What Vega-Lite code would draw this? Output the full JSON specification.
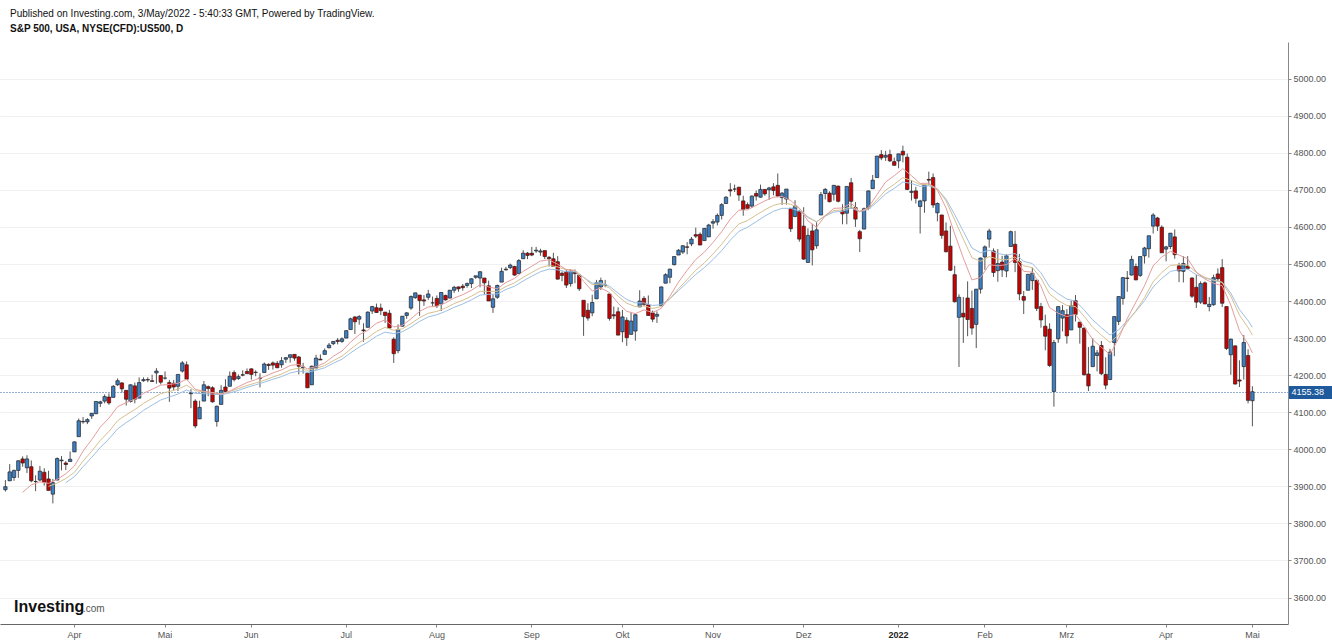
{
"$schema":"https://vega.github.io/schema/vega-lite/v6.json",
"width":1288,"height":582,
"autosize":{"type":"none"},
"padding":{"left":0,"top":42,"right":44,"bottom":18},
"background":"white",
"config":{"view":{"stroke":null},"font":"Liberation Sans"},
"title":{"text":"Published on Investing.com, 3/May/2022 - 5:40:33 GMT, Powered by TradingView.","subtitle":"S&P 500, USA, NYSE(CFD):US500, D","anchor":"start","frame":"group","orient":"top","dx":10,"offset":8,"font":"Liberation Sans","fontSize":10,"fontWeight":"normal","color":"#111","subtitleFont":"Liberation Sans","subtitleFontSize":10,"subtitleFontWeight":"bold","subtitleColor":"#111","subtitlePadding":5},
"data":{"values":[
{"d":"2021-03-10","o":3891,"h":3917,"l":3886,"c":3899},
{"d":"2021-03-11","o":3915,"h":3960,"l":3915,"c":3939},
{"d":"2021-03-12","o":3924,"h":3945,"l":3915,"c":3943},
{"d":"2021-03-15","o":3943,"h":3970,"l":3923,"c":3969},
{"d":"2021-03-16","o":3974,"h":3981,"l":3953,"c":3963,"r":3884},
{"d":"2021-03-17","o":3950,"h":3984,"l":3936,"c":3974},
{"d":"2021-03-18","o":3953,"h":3970,"l":3911,"c":3915,"r":3904},
{"d":"2021-03-19","o":3913,"h":3930,"l":3887,"c":3913},
{"d":"2021-03-22","o":3917,"h":3955,"l":3914,"c":3941,"r":3912},
{"d":"2021-03-23","o":3938,"h":3949,"l":3902,"c":3911},
{"d":"2021-03-24","o":3920,"h":3942,"l":3889,"c":3889,"r":3908,"t":3900},
{"d":"2021-03-25","o":3879,"h":3920,"l":3854,"c":3910},
{"d":"2021-03-26","o":3917,"h":3978,"l":3917,"c":3975,"r":3919,"t":3909},
{"d":"2021-03-29","o":3969,"h":3982,"l":3943,"c":3971},
{"d":"2021-03-30","o":3963,"h":3968,"l":3944,"c":3959,"r":3934,"t":3921,"b":3910},
{"d":"2021-03-31","o":3967,"h":3994,"l":3967,"c":3973},
{"d":"2021-04-01","o":3993,"h":4021,"l":3993,"c":4020,"r":3955,"t":3938,"b":3926},
{"d":"2021-04-05","o":4034,"h":4083,"l":4034,"c":4077},
{"d":"2021-04-06","o":4075,"h":4087,"l":4069,"c":4074,"r":3995,"t":3968,"b":3953},
{"d":"2021-04-07","o":4074,"h":4084,"l":4068,"c":4080},
{"d":"2021-04-08","o":4090,"h":4098,"l":4082,"c":4097,"r":4026,"t":3995,"b":3978},
{"d":"2021-04-09","o":4096,"h":4129,"l":4095,"c":4129},
{"d":"2021-04-12","o":4124,"h":4131,"l":4114,"c":4128,"r":4060,"t":4024,"b":4005},
{"d":"2021-04-13","o":4130,"h":4148,"l":4124,"c":4142},
{"d":"2021-04-14","o":4141,"h":4151,"l":4120,"c":4125,"r":4084,"t":4048,"b":4028},
{"d":"2021-04-15","o":4140,"h":4173,"l":4140,"c":4170},
{"d":"2021-04-16","o":4174,"h":4191,"l":4171,"c":4185,"r":4115,"t":4077,"b":4055},
{"d":"2021-04-19","o":4179,"h":4181,"l":4153,"c":4163},
{"d":"2021-04-20","o":4159,"h":4160,"l":4118,"c":4135,"r":4126,"t":4093,"b":4072},
{"d":"2021-04-21","o":4129,"h":4175,"l":4126,"c":4174},
{"d":"2021-04-22","o":4171,"h":4180,"l":4124,"c":4135,"r":4135,"t":4107,"b":4087},
{"d":"2021-04-23","o":4138,"h":4194,"l":4138,"c":4180},
{"d":"2021-04-26","o":4185,"h":4194,"l":4182,"c":4188,"r":4151,"t":4124,"b":4105},
{"d":"2021-04-27","o":4188,"h":4194,"l":4181,"c":4187},
{"d":"2021-04-28","o":4185,"h":4201,"l":4182,"c":4183,"r":4162,"t":4137,"b":4119},
{"d":"2021-04-29","o":4206,"h":4219,"l":4177,"c":4211},
{"d":"2021-04-30","o":4199,"h":4199,"l":4175,"c":4181,"r":4173,"t":4150,"b":4133},
{"d":"2021-05-03","o":4192,"h":4210,"l":4188,"c":4192},
{"d":"2021-05-04","o":4180,"h":4187,"l":4128,"c":4165,"r":4175,"t":4156,"b":4141},
{"d":"2021-05-05","o":4178,"h":4187,"l":4159,"c":4168},
{"d":"2021-05-06","o":4170,"h":4202,"l":4157,"c":4202,"r":4178,"t":4162,"b":4149},
{"d":"2021-05-07","o":4211,"h":4238,"l":4207,"c":4233},
{"d":"2021-05-10","o":4228,"h":4237,"l":4188,"c":4189,"r":4189,"t":4173,"b":4160},
{"d":"2021-05-11","o":4150,"h":4162,"l":4111,"c":4152},
{"d":"2021-05-12","o":4130,"h":4135,"l":4057,"c":4063,"r":4162,"t":4158,"b":4151},
{"d":"2021-05-13","o":4082,"h":4131,"l":4082,"c":4113},
{"d":"2021-05-14","o":4130,"h":4184,"l":4130,"c":4174,"r":4156,"t":4155,"b":4150},
{"d":"2021-05-17","o":4169,"h":4172,"l":4143,"c":4164},
{"d":"2021-05-18","o":4166,"h":4170,"l":4126,"c":4128,"r":4153,"t":4153,"b":4149},
{"d":"2021-05-19","o":4075,"h":4118,"l":4061,"c":4116},
{"d":"2021-05-20","o":4121,"h":4173,"l":4121,"c":4159,"r":4148,"t":4150,"b":4147},
{"d":"2021-05-21","o":4168,"h":4189,"l":4152,"c":4156},
{"d":"2021-05-24","o":4170,"h":4210,"l":4170,"c":4197,"r":4157,"t":4156,"b":4152},
{"d":"2021-05-25","o":4207,"h":4213,"l":4183,"c":4188},
{"d":"2021-05-26","o":4191,"h":4202,"l":4187,"c":4196,"r":4169,"t":4164,"b":4159},
{"d":"2021-05-27","o":4201,"h":4213,"l":4197,"c":4200},
{"d":"2021-05-28","o":4210,"h":4218,"l":4203,"c":4204,"r":4180,"t":4172,"b":4167},
{"d":"2021-06-01","o":4217,"h":4218,"l":4188,"c":4202},
{"d":"2021-06-02","o":4207,"h":4213,"l":4197,"c":4208,"r":4188,"t":4179,"b":4174},
{"d":"2021-06-03","o":4191,"h":4205,"l":4167,"c":4192},
{"d":"2021-06-04","o":4207,"h":4234,"l":4207,"c":4230,"r":4196,"t":4186,"b":4181},
{"d":"2021-06-07","o":4229,"h":4232,"l":4214,"c":4226},
{"d":"2021-06-08","o":4233,"h":4237,"l":4215,"c":4227,"r":4206,"t":4195,"b":4189},
{"d":"2021-06-09","o":4232,"h":4238,"l":4219,"c":4220},
{"d":"2021-06-10","o":4228,"h":4249,"l":4220,"c":4239,"r":4214,"t":4203,"b":4196},
{"d":"2021-06-11","o":4243,"h":4249,"l":4233,"c":4247},
{"d":"2021-06-14","o":4248,"h":4255,"l":4234,"c":4255,"r":4226,"t":4214,"b":4206},
{"d":"2021-06-15","o":4256,"h":4257,"l":4239,"c":4246},
{"d":"2021-06-16","o":4249,"h":4252,"l":4202,"c":4224,"r":4229,"t":4219,"b":4211},
{"d":"2021-06-17","o":4220,"h":4233,"l":4204,"c":4222},
{"d":"2021-06-18","o":4205,"h":4207,"l":4165,"c":4166,"r":4217,"t":4213,"b":4208},
{"d":"2021-06-21","o":4174,"h":4226,"l":4174,"c":4224},
{"d":"2021-06-22","o":4219,"h":4255,"l":4215,"c":4246,"r":4223,"t":4218,"b":4213},
{"d":"2021-06-23","o":4243,"h":4256,"l":4241,"c":4241},
{"d":"2021-06-24","o":4256,"h":4272,"l":4256,"c":4266,"r":4233,"t":4226,"b":4220},
{"d":"2021-06-25","o":4274,"h":4287,"l":4272,"c":4281},
{"d":"2021-06-28","o":4285,"h":4292,"l":4281,"c":4291,"r":4251,"t":4239,"b":4232},
{"d":"2021-06-29","o":4294,"h":4300,"l":4283,"c":4291},
{"d":"2021-06-30","o":4291,"h":4302,"l":4287,"c":4298,"r":4265,"t":4251,"b":4243},
{"d":"2021-07-01","o":4300,"h":4321,"l":4300,"c":4320},
{"d":"2021-07-02","o":4323,"h":4355,"l":4323,"c":4352,"r":4289,"t":4270,"b":4260},
{"d":"2021-07-06","o":4357,"h":4359,"l":4311,"c":4344},
{"d":"2021-07-07","o":4351,"h":4362,"l":4336,"c":4358,"r":4309,"t":4288,"b":4276},
{"d":"2021-07-08","o":4322,"h":4340,"l":4290,"c":4320},
{"d":"2021-07-09","o":4329,"h":4372,"l":4329,"c":4370,"r":4321,"t":4301,"b":4289},
{"d":"2021-07-12","o":4373,"h":4387,"l":4365,"c":4385},
{"d":"2021-07-13","o":4382,"h":4393,"l":4368,"c":4369,"r":4340,"t":4318,"b":4305},
{"d":"2021-07-14","o":4381,"h":4393,"l":4362,"c":4374},
{"d":"2021-07-15","o":4370,"h":4370,"l":4341,"c":4361,"r":4349,"t":4329,"b":4316},
{"d":"2021-07-16","o":4367,"h":4376,"l":4326,"c":4327},
{"d":"2021-07-19","o":4297,"h":4302,"l":4233,"c":4258,"r":4330,"t":4321,"b":4312},
{"d":"2021-07-20","o":4266,"h":4337,"l":4259,"c":4323},
{"d":"2021-07-21","o":4332,"h":4359,"l":4331,"c":4359,"r":4334,"t":4325,"b":4317},
{"d":"2021-07-22","o":4361,"h":4370,"l":4352,"c":4368},
{"d":"2021-07-23","o":4381,"h":4415,"l":4376,"c":4412,"r":4352,"t":4339,"b":4330},
{"d":"2021-07-26","o":4409,"h":4422,"l":4406,"c":4422},
{"d":"2021-07-27","o":4416,"h":4416,"l":4360,"c":4401,"r":4372,"t":4355,"b":4345},
{"d":"2021-07-28","o":4403,"h":4416,"l":4387,"c":4400},
{"d":"2021-07-29","o":4410,"h":4430,"l":4403,"c":4419,"r":4384,"t":4367,"b":4357},
{"d":"2021-07-30","o":4395,"h":4412,"l":4386,"c":4395},
{"d":"2021-08-02","o":4407,"h":4415,"l":4381,"c":4387,"r":4386,"t":4372,"b":4363},
{"d":"2021-08-03","o":4392,"h":4424,"l":4373,"c":4423},
{"d":"2021-08-04","o":4415,"h":4417,"l":4401,"c":4403,"r":4395,"t":4381,"b":4372},
{"d":"2021-08-05","o":4408,"h":4430,"l":4407,"c":4429},
{"d":"2021-08-06","o":4429,"h":4441,"l":4422,"c":4437,"r":4408,"t":4393,"b":4383},
{"d":"2021-08-09","o":4438,"h":4439,"l":4425,"c":4433},
{"d":"2021-08-10","o":4440,"h":4446,"l":4428,"c":4436,"r":4417,"t":4402,"b":4392},
{"d":"2021-08-11","o":4442,"h":4450,"l":4436,"c":4447},
{"d":"2021-08-12","o":4447,"h":4461,"l":4435,"c":4460,"r":4429,"t":4413,"b":4403},
{"d":"2021-08-13","o":4464,"h":4468,"l":4460,"c":4468},
{"d":"2021-08-16","o":4462,"h":4480,"l":4437,"c":4479,"r":4444,"t":4426,"b":4416},
{"d":"2021-08-17","o":4462,"h":4462,"l":4417,"c":4449},
{"d":"2021-08-18","o":4441,"h":4455,"l":4400,"c":4400,"r":4438,"t":4426,"b":4418},
{"d":"2021-08-19","o":4383,"h":4418,"l":4368,"c":4406},
{"d":"2021-08-20","o":4410,"h":4444,"l":4406,"c":4442,"r":4433,"t":4426,"b":4419},
{"d":"2021-08-23","o":4451,"h":4490,"l":4451,"c":4480},
{"d":"2021-08-24","o":4484,"h":4492,"l":4482,"c":4486,"r":4450,"t":4439,"b":4431},
{"d":"2021-08-25","o":4490,"h":4501,"l":4486,"c":4497},
{"d":"2021-08-26","o":4493,"h":4495,"l":4468,"c":4470,"r":4461,"t":4449,"b":4440},
{"d":"2021-08-27","o":4474,"h":4513,"l":4474,"c":4509},
{"d":"2021-08-30","o":4514,"h":4537,"l":4514,"c":4529,"r":4480,"t":4464,"b":4454},
{"d":"2021-08-31","o":4529,"h":4532,"l":4513,"c":4523},
{"d":"2021-09-01","o":4529,"h":4546,"l":4521,"c":4524,"r":4494,"t":4477,"b":4467},
{"d":"2021-09-02","o":4535,"h":4546,"l":4530,"c":4537},
{"d":"2021-09-03","o":4532,"h":4541,"l":4522,"c":4535,"r":4508,"t":4490,"b":4479},
{"d":"2021-09-07","o":4536,"h":4536,"l":4513,"c":4520},
{"d":"2021-09-08","o":4518,"h":4521,"l":4493,"c":4514,"r":4511,"t":4496,"b":4486},
{"d":"2021-09-09","o":4514,"h":4530,"l":4493,"c":4493},
{"d":"2021-09-10","o":4506,"h":4521,"l":4458,"c":4459,"r":4499,"t":4492,"b":4484},
{"d":"2021-09-13","o":4475,"h":4480,"l":4453,"c":4469},
{"d":"2021-09-14","o":4479,"h":4485,"l":4435,"c":4443,"r":4485,"t":4484,"b":4479},
{"d":"2021-09-15","o":4447,"h":4486,"l":4439,"c":4481},
{"d":"2021-09-16","o":4477,"h":4485,"l":4448,"c":4474,"r":4482,"t":4483,"b":4479},
{"d":"2021-09-17","o":4470,"h":4471,"l":4427,"c":4433},
{"d":"2021-09-20","o":4402,"h":4402,"l":4306,"c":4358,"r":4453,"t":4464,"b":4464},
{"d":"2021-09-21","o":4375,"h":4394,"l":4347,"c":4354},
{"d":"2021-09-22","o":4368,"h":4417,"l":4359,"c":4396,"r":4427,"t":4444,"b":4448},
{"d":"2021-09-23","o":4406,"h":4457,"l":4406,"c":4449},
{"d":"2021-09-24","o":4438,"h":4463,"l":4430,"c":4455,"r":4435,"t":4446,"b":4449},
{"d":"2021-09-27","o":4443,"h":4457,"l":4437,"c":4443},
{"d":"2021-09-28","o":4419,"h":4419,"l":4347,"c":4353,"r":4423,"t":4435,"b":4440},
{"d":"2021-09-29","o":4363,"h":4385,"l":4351,"c":4360},
{"d":"2021-09-30","o":4371,"h":4383,"l":4308,"c":4308,"r":4394,"t":4413,"b":4421},
{"d":"2021-10-01","o":4317,"h":4376,"l":4289,"c":4357},
{"d":"2021-10-04","o":4348,"h":4356,"l":4279,"c":4301,"r":4372,"t":4394,"b":4404},
{"d":"2021-10-05","o":4310,"h":4369,"l":4310,"c":4346},
{"d":"2021-10-06","o":4319,"h":4365,"l":4293,"c":4363,"r":4366,"t":4385,"b":4395},
{"d":"2021-10-07","o":4384,"h":4429,"l":4384,"c":4400},
{"d":"2021-10-08","o":4407,"h":4413,"l":4386,"c":4391,"r":4376,"t":4387,"b":4395},
{"d":"2021-10-11","o":4390,"h":4415,"l":4360,"c":4361},
{"d":"2021-10-12","o":4368,"h":4374,"l":4343,"c":4351,"r":4369,"t":4380,"b":4388},
{"d":"2021-10-13","o":4359,"h":4372,"l":4341,"c":4364},
{"d":"2021-10-14","o":4387,"h":4439,"l":4387,"c":4438,"r":4380,"t":4385,"b":4390},
{"d":"2021-10-15","o":4448,"h":4475,"l":4448,"c":4471},
{"d":"2021-10-18","o":4464,"h":4487,"l":4448,"c":4486,"r":4413,"t":4406,"b":4406},
{"d":"2021-10-19","o":4498,"h":4520,"l":4496,"c":4520},
{"d":"2021-10-20","o":4524,"h":4540,"l":4524,"c":4537,"r":4451,"t":4433,"b":4428},
{"d":"2021-10-21","o":4532,"h":4551,"l":4527,"c":4549},
{"d":"2021-10-22","o":4546,"h":4559,"l":4526,"c":4545,"r":4483,"t":4458,"b":4450},
{"d":"2021-10-25","o":4554,"h":4573,"l":4548,"c":4567},
{"d":"2021-10-26","o":4579,"h":4598,"l":4570,"c":4575,"r":4512,"t":4483,"b":4472},
{"d":"2021-10-27","o":4580,"h":4585,"l":4552,"c":4551},
{"d":"2021-10-28","o":4563,"h":4597,"l":4563,"c":4596,"r":4532,"t":4503,"b":4490},
{"d":"2021-10-29","o":4573,"h":4608,"l":4573,"c":4605},
{"d":"2021-11-01","o":4610,"h":4621,"l":4595,"c":4614,"r":4558,"t":4527,"b":4512},
{"d":"2021-11-02","o":4613,"h":4636,"l":4604,"c":4631},
{"d":"2021-11-03","o":4631,"h":4664,"l":4620,"c":4660,"r":4587,"t":4553,"b":4536},
{"d":"2021-11-04","o":4663,"h":4683,"l":4662,"c":4680},
{"d":"2021-11-05","o":4700,"h":4718,"l":4682,"c":4697,"r":4621,"t":4583,"b":4564},
{"d":"2021-11-08","o":4702,"h":4714,"l":4694,"c":4702},
{"d":"2021-11-09","o":4707,"h":4708,"l":4670,"c":4686,"r":4645,"t":4608,"b":4588},
{"d":"2021-11-10","o":4670,"h":4684,"l":4630,"c":4647},
{"d":"2021-11-11","o":4660,"h":4666,"l":4649,"c":4650,"r":4646,"t":4617,"b":4599},
{"d":"2021-11-12","o":4656,"h":4685,"l":4651,"c":4683},
{"d":"2021-11-15","o":4690,"h":4698,"l":4671,"c":4683,"r":4658,"t":4632,"b":4614},
{"d":"2021-11-16","o":4680,"h":4714,"l":4679,"c":4701},
{"d":"2021-11-17","o":4701,"h":4701,"l":4684,"c":4689,"r":4670,"t":4646,"b":4629},
{"d":"2021-11-18","o":4700,"h":4708,"l":4673,"c":4705},
{"d":"2021-11-19","o":4708,"h":4718,"l":4685,"c":4698,"r":4680,"t":4658,"b":4642},
{"d":"2021-11-22","o":4712,"h":4744,"l":4680,"c":4683},
{"d":"2021-11-23","o":4679,"h":4694,"l":4659,"c":4691,"r":4682,"t":4664,"b":4650},
{"d":"2021-11-24","o":4675,"h":4702,"l":4660,"c":4702},
{"d":"2021-11-26","o":4650,"h":4650,"l":4586,"c":4595,"r":4671,"t":4661,"b":4650},
{"d":"2021-11-29","o":4628,"h":4672,"l":4626,"c":4655},
{"d":"2021-11-30","o":4641,"h":4646,"l":4560,"c":4567,"r":4651,"t":4650,"b":4643},
{"d":"2021-12-01","o":4602,"h":4653,"l":4511,"c":4513},
{"d":"2021-12-02","o":4504,"h":4596,"l":4504,"c":4577,"r":4616,"t":4627,"b":4625},
{"d":"2021-12-03","o":4589,"h":4608,"l":4496,"c":4538},
{"d":"2021-12-06","o":4549,"h":4613,"l":4541,"c":4592,"r":4599,"t":4613,"b":4614},
{"d":"2021-12-07","o":4632,"h":4694,"l":4632,"c":4687},
{"d":"2021-12-08","o":4690,"h":4705,"l":4674,"c":4701,"r":4630,"t":4631,"b":4629},
{"d":"2021-12-09","o":4691,"h":4696,"l":4666,"c":4668},
{"d":"2021-12-10","o":4688,"h":4713,"l":4671,"c":4712,"r":4650,"t":4644,"b":4640},
{"d":"2021-12-13","o":4710,"h":4711,"l":4666,"c":4669},
{"d":"2021-12-14","o":4643,"h":4661,"l":4607,"c":4635,"r":4651,"t":4646,"b":4642},
{"d":"2021-12-15","o":4637,"h":4710,"l":4607,"c":4709},
{"d":"2021-12-16","o":4719,"h":4732,"l":4648,"c":4669,"r":4664,"t":4655,"b":4651},
{"d":"2021-12-17","o":4652,"h":4667,"l":4600,"c":4621},
{"d":"2021-12-20","o":4587,"h":4592,"l":4532,"c":4568,"r":4641,"t":4642,"b":4641},
{"d":"2021-12-21","o":4594,"h":4652,"l":4594,"c":4649},
{"d":"2021-12-22","o":4650,"h":4698,"l":4645,"c":4697,"r":4652,"t":4649,"b":4647},
{"d":"2021-12-23","o":4703,"h":4740,"l":4703,"c":4726},
{"d":"2021-12-27","o":4733,"h":4791,"l":4733,"c":4791,"r":4687,"t":4673,"b":4667},
{"d":"2021-12-28","o":4795,"h":4807,"l":4780,"c":4786},
{"d":"2021-12-29","o":4788,"h":4805,"l":4778,"c":4793,"r":4721,"t":4699,"b":4689},
{"d":"2021-12-30","o":4795,"h":4808,"l":4775,"c":4778},
{"d":"2021-12-31","o":4776,"h":4787,"l":4766,"c":4766,"r":4738,"t":4715,"b":4704},
{"d":"2022-01-03","o":4778,"h":4797,"l":4758,"c":4797},
{"d":"2022-01-04","o":4804,"h":4819,"l":4774,"c":4794,"r":4757,"t":4733,"b":4721},
{"d":"2022-01-05","o":4788,"h":4798,"l":4699,"c":4701},
{"d":"2022-01-06","o":4693,"h":4726,"l":4671,"c":4696,"r":4738,"t":4725,"b":4717},
{"d":"2022-01-07","o":4697,"h":4708,"l":4663,"c":4677},
{"d":"2022-01-10","o":4655,"h":4673,"l":4582,"c":4670,"r":4717,"t":4714,"b":4709},
{"d":"2022-01-11","o":4670,"h":4714,"l":4638,"c":4713},
{"d":"2022-01-12","o":4728,"h":4749,"l":4712,"c":4726,"r":4718,"t":4715,"b":4711},
{"d":"2022-01-13","o":4733,"h":4744,"l":4651,"c":4659},
{"d":"2022-01-14","o":4638,"h":4666,"l":4615,"c":4663,"r":4699,"t":4703,"b":4702},
{"d":"2022-01-18","o":4632,"h":4633,"l":4568,"c":4577},
{"d":"2022-01-19","o":4589,"h":4612,"l":4531,"c":4533,"r":4651,"t":4670,"b":4675},
{"d":"2022-01-20","o":4548,"h":4603,"l":4481,"c":4483},
{"d":"2022-01-21","o":4471,"h":4495,"l":4396,"c":4398,"r":4581,"t":4619,"b":4633},
{"d":"2022-01-24","o":4356,"h":4418,"l":4222,"c":4410},
{"d":"2022-01-25","o":4367,"h":4411,"l":4287,"c":4357,"r":4516,"t":4567,"b":4588},
{"d":"2022-01-26","o":4408,"h":4453,"l":4305,"c":4350},
{"d":"2022-01-27","o":4380,"h":4428,"l":4309,"c":4327,"r":4457,"t":4517,"b":4543},
{"d":"2022-01-28","o":4337,"h":4432,"l":4273,"c":4432},
{"d":"2022-01-31","o":4432,"h":4517,"l":4420,"c":4516,"r":4463,"t":4507,"b":4530},
{"d":"2022-02-01","o":4519,"h":4550,"l":4484,"c":4546},
{"d":"2022-02-02","o":4567,"h":4595,"l":4544,"c":4589,"r":4498,"t":4520,"b":4537},
{"d":"2022-02-03","o":4535,"h":4542,"l":4465,"c":4477},
{"d":"2022-02-04","o":4482,"h":4540,"l":4452,"c":4501,"r":4495,"t":4513,"b":4528},
{"d":"2022-02-07","o":4505,"h":4522,"l":4465,"c":4484},
{"d":"2022-02-08","o":4481,"h":4526,"l":4464,"c":4522,"r":4498,"t":4511,"b":4524},
{"d":"2022-02-09","o":4547,"h":4590,"l":4547,"c":4587},
{"d":"2022-02-10","o":4553,"h":4589,"l":4478,"c":4504,"r":4514,"t":4519,"b":4528},
{"d":"2022-02-11","o":4506,"h":4527,"l":4402,"c":4419},
{"d":"2022-02-14","o":4412,"h":4427,"l":4365,"c":4402,"r":4480,"t":4495,"b":4507},
{"d":"2022-02-15","o":4429,"h":4473,"l":4429,"c":4472},
{"d":"2022-02-16","o":4455,"h":4490,"l":4430,"c":4475,"r":4478,"t":4490,"b":4501},
{"d":"2022-02-17","o":4456,"h":4456,"l":4373,"c":4380},
{"d":"2022-02-18","o":4385,"h":4395,"l":4328,"c":4349,"r":4440,"t":4462,"b":4476},
{"d":"2022-02-22","o":4332,"h":4363,"l":4267,"c":4305},
{"d":"2022-02-23","o":4324,"h":4340,"l":4222,"c":4226,"r":4382,"t":4419,"b":4438},
{"d":"2022-02-24","o":4156,"h":4295,"l":4115,"c":4288},
{"d":"2022-02-25","o":4298,"h":4385,"l":4287,"c":4385,"r":4367,"t":4401,"b":4420},
{"d":"2022-02-28","o":4354,"h":4389,"l":4318,"c":4374},
{"d":"2022-03-01","o":4363,"h":4378,"l":4285,"c":4306,"r":4358,"t":4388,"b":4405},
{"d":"2022-03-02","o":4322,"h":4401,"l":4322,"c":4387},
{"d":"2022-03-03","o":4401,"h":4416,"l":4345,"c":4364,"r":4364,"t":4385,"b":4400},
{"d":"2022-03-04","o":4343,"h":4343,"l":4285,"c":4329},
{"d":"2022-03-07","o":4327,"h":4328,"l":4199,"c":4201,"r":4331,"t":4359,"b":4376},
{"d":"2022-03-08","o":4203,"h":4276,"l":4157,"c":4171},
{"d":"2022-03-09","o":4223,"h":4300,"l":4223,"c":4278,"r":4296,"t":4329,"b":4349},
{"d":"2022-03-10","o":4253,"h":4268,"l":4210,"c":4260},
{"d":"2022-03-11","o":4280,"h":4292,"l":4200,"c":4204,"r":4275,"t":4308,"b":4328},
{"d":"2022-03-14","o":4202,"h":4248,"l":4162,"c":4173},
{"d":"2022-03-15","o":4188,"h":4271,"l":4187,"c":4262,"r":4256,"t":4288,"b":4308},
{"d":"2022-03-16","o":4288,"h":4358,"l":4251,"c":4358},
{"d":"2022-03-17","o":4345,"h":4412,"l":4335,"c":4412,"r":4299,"t":4309,"b":4322},
{"d":"2022-03-18","o":4407,"h":4465,"l":4390,"c":4463},
{"d":"2022-03-21","o":4462,"h":4481,"l":4425,"c":4461,"r":4353,"t":4343,"b":4347},
{"d":"2022-03-22","o":4470,"h":4522,"l":4469,"c":4512},
{"d":"2022-03-23","o":4493,"h":4501,"l":4456,"c":4457,"r":4397,"t":4374,"b":4372},
{"d":"2022-03-24","o":4469,"h":4520,"l":4465,"c":4520},
{"d":"2022-03-25","o":4522,"h":4546,"l":4501,"c":4543,"r":4441,"t":4409,"b":4401},
{"d":"2022-03-28","o":4541,"h":4576,"l":4517,"c":4576},
{"d":"2022-03-29","o":4602,"h":4637,"l":4582,"c":4632,"r":4495,"t":4452,"b":4438},
{"d":"2022-03-30","o":4624,"h":4627,"l":4589,"c":4602},
{"d":"2022-03-31","o":4599,"h":4604,"l":4531,"c":4530,"r":4519,"t":4477,"b":4461},
{"d":"2022-04-01","o":4540,"h":4549,"l":4507,"c":4546},
{"d":"2022-04-04","o":4547,"h":4583,"l":4540,"c":4583,"r":4534,"t":4496,"b":4480},
{"d":"2022-04-05","o":4573,"h":4593,"l":4514,"c":4525},
{"d":"2022-04-06","o":4495,"h":4503,"l":4451,"c":4481,"r":4524,"t":4498,"b":4484},
{"d":"2022-04-07","o":4480,"h":4521,"l":4450,"c":4501},
{"d":"2022-04-08","o":4494,"h":4521,"l":4485,"c":4488,"r":4514,"t":4497,"b":4486},
{"d":"2022-04-11","o":4462,"h":4464,"l":4408,"c":4413},
{"d":"2022-04-12","o":4437,"h":4471,"l":4381,"c":4397,"r":4478,"t":4477,"b":4471},
{"d":"2022-04-13","o":4397,"h":4453,"l":4392,"c":4447},
{"d":"2022-04-14","o":4449,"h":4453,"l":4392,"c":4392,"r":4459,"t":4464,"b":4462},
{"d":"2022-04-18","o":4385,"h":4411,"l":4372,"c":4391},
{"d":"2022-04-19","o":4390,"h":4471,"l":4387,"c":4463,"r":4448,"t":4456,"b":4456},
{"d":"2022-04-20","o":4473,"h":4488,"l":4452,"c":4460},
{"d":"2022-04-21","o":4490,"h":4513,"l":4384,"c":4394,"r":4441,"t":4450,"b":4451},
{"d":"2022-04-22","o":4385,"h":4386,"l":4268,"c":4272},
{"d":"2022-04-25","o":4255,"h":4299,"l":4201,"c":4297,"r":4389,"t":4413,"b":4421},
{"d":"2022-04-26","o":4279,"h":4280,"l":4175,"c":4176},
{"d":"2022-04-27","o":4187,"h":4240,"l":4168,"c":4184,"r":4320,"t":4362,"b":4377},
{"d":"2022-04-28","o":4223,"h":4308,"l":4188,"c":4288},
{"d":"2022-04-29","o":4253,"h":4270,"l":4124,"c":4132,"r":4284,"t":4328,"b":4347},
{"d":"2022-05-02","o":4131,"h":4170,"l":4062,"c":4155.38,"r":4260,"t":4308,"b":4329}
]},
"encoding":{
"x":{"field":"d","type":"ordinal","scale":{"paddingInner":0,"paddingOuter":0.75,"domain":{"unionWith":["2022-05-03","2022-05-04","2022-05-05","2022-05-06","2022-05-09","2022-05-10","2022-05-11"]}},
"axis":{"title":null,"values":["2021-04-01","2021-05-03","2021-06-01","2021-07-01","2021-08-02","2021-09-01","2021-10-01","2021-11-01","2021-12-01","2022-01-03","2022-02-01","2022-03-01","2022-04-01","2022-05-02"],
"labelExpr":"datum.value == '2022-01-03' ? '2022' : ['Jan','Feb','Mrz','Apr','Mai','Jun','Jul','Aug','Sep','Okt','Nov','Dez'][toNumber(substring(datum.value,5,7))-1]",
"labelAngle":0,"labelFont":"Liberation Sans","labelFontSize":9,"labelColor":{"condition":{"test":"datum.value == '2022-01-03'","value":"#222"},"value":"#555"},"labelFontWeight":{"condition":{"test":"datum.value == '2022-01-03'","value":"bold"},"value":"normal"},"labelPadding":3,"tickSize":3,"tickColor":"#888","domainColor":"#666","grid":false,"labelOverlap":false}}
},
"layer":[
{"mark":{"type":"rule","color":"#555","strokeWidth":1},
 "encoding":{"x":{"field":"d","type":"ordinal","bandPosition":0.5},
 "y":{"field":"l","type":"quantitative","scale":{"domain":[3528.7,5098.7],"zero":false,"nice":false},
 "axis":{"orient":"right","title":null,"format":".2f","tickCount":100,"values":[3600,3700,3800,3900,4000,4100,4155.38,4200,4300,4400,4500,4600,4700,4800,4900,5000],
 "labelFont":"Liberation Sans","labelFontSize":9,"labelColor":{"condition":{"test":"datum.value == 4155.38","value":"#ffffff"},"value":"#555"},
 "labelOverlap":false,"labelBaseline":"middle",
 "tickColor":{"condition":{"test":"datum.value == 4155.38","value":"#1e5a9c"},"value":"#888"},
 "tickSize":{"condition":{"test":"datum.value == 4155.38","value":44},"value":3},
 "tickWidth":{"condition":{"test":"datum.value == 4155.38","value":13},"value":1},
 "labelPadding":{"condition":{"test":"datum.value == 4155.38","value":-41},"value":2},
 "domainColor":"#888","grid":true,
 "gridColor":{"condition":{"test":"datum.value == 4155.38","value":"#2c62a6"},"value":"#f0f0f0"},
 "gridDash":{"condition":{"test":"datum.value == 4155.38","value":[1,2]},"value":[]}}},
 "y2":{"field":"h"}}},
{"mark":{"type":"bar","width":3.4,"stroke":"#222","strokeWidth":0.7},
 "encoding":{"y":{"field":"o","type":"quantitative"},"y2":{"field":"c"},
 "fill":{"condition":{"test":"datum.c >= datum.o","value":"#3d7fc3"},"value":"#cc0000"}}},
{"transform":[{"filter":"isValid(datum.b)"}],"mark":{"type":"line","color":"#9dbfe3","strokeWidth":1},"encoding":{"x":{"field":"d","type":"ordinal","bandPosition":0.5},"y":{"field":"b","type":"quantitative"}}},
{"transform":[{"filter":"isValid(datum.t)"}],"mark":{"type":"line","color":"#d6c08f","strokeWidth":1},"encoding":{"x":{"field":"d","type":"ordinal","bandPosition":0.5},"y":{"field":"t","type":"quantitative"}}},
{"transform":[{"filter":"isValid(datum.r)"}],"mark":{"type":"line","color":"#e59c9c","strokeWidth":1},"encoding":{"x":{"field":"d","type":"ordinal","bandPosition":0.5},"y":{"field":"r","type":"quantitative"}}},
{"transform":[{"filter":"datum.d == '2021-03-12'"}],"mark":{"type":"text","text":"Investing","font":"Liberation Sans","fontWeight":"bold","fontSize":16,"align":"left","baseline":"alphabetic","color":"#111"},"encoding":{"x":{"field":"d","type":"ordinal","bandPosition":0.5},"y":{"datum":3562}}},
{"transform":[{"filter":"datum.d == '2021-03-12'"}],"mark":{"type":"text","text":".com","font":"Liberation Sans","fontSize":10,"align":"left","baseline":"alphabetic","dx":69,"color":"#555"},"encoding":{"x":{"field":"d","type":"ordinal","bandPosition":0.5},"y":{"datum":3562}}}
]
}
